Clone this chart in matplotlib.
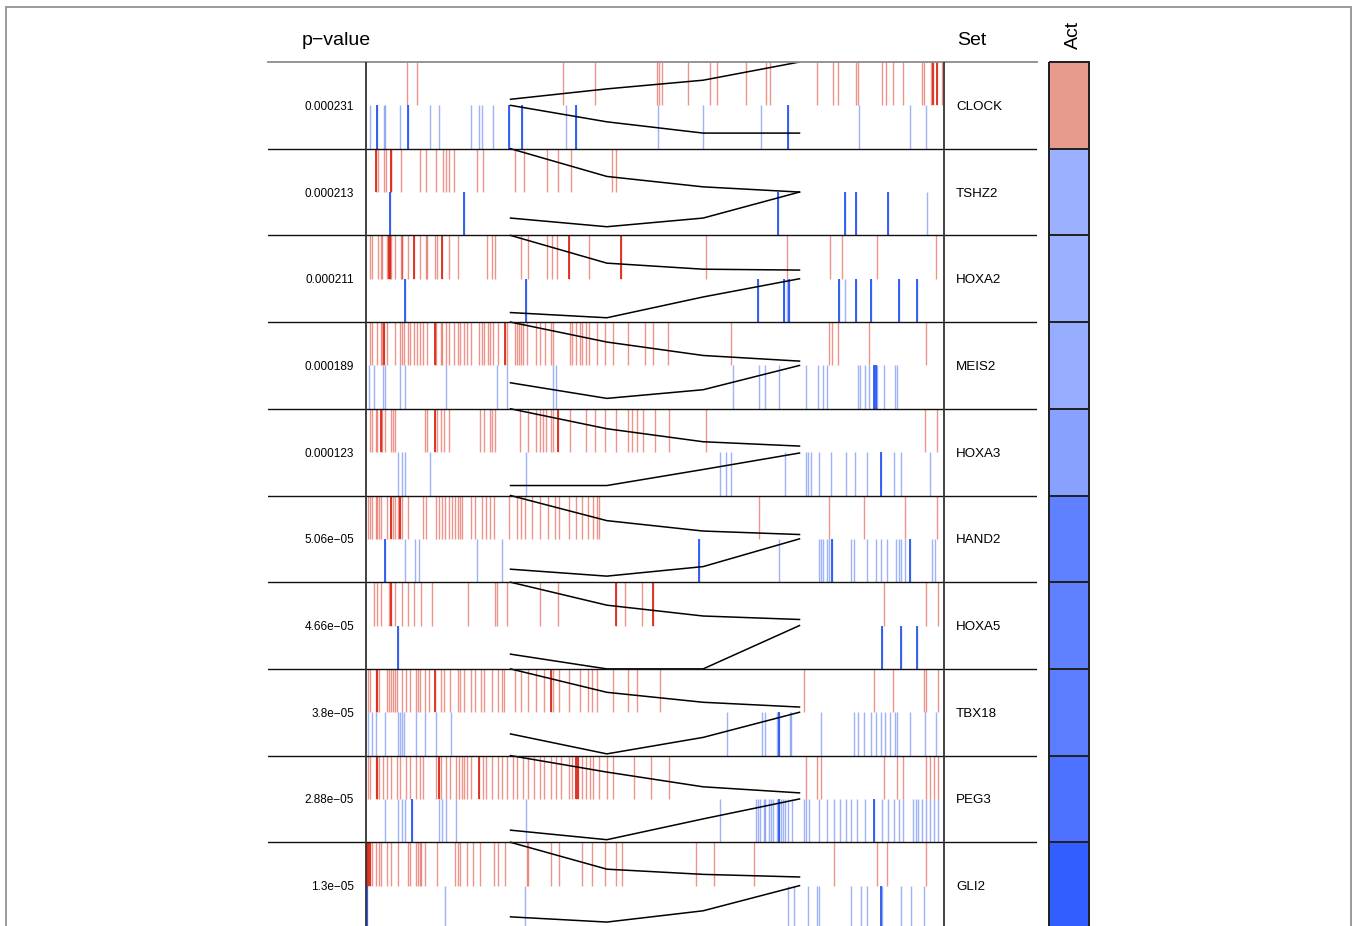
import numpy as np
import matplotlib
matplotlib.use("Agg")
import matplotlib.pyplot as plt
from matplotlib.colors import LinearSegmentedColormap, Normalize
from matplotlib.patches import Rectangle

plt.rcParams['font.family'] = ['Liberation Sans', 'DejaVu Sans']

# regulators, top to bottom
genes = ['CLOCK', 'TSHZ2', 'HOXA2', 'MEIS2', 'HOXA3', 'HAND2', 'HOXA5', 'TBX18', 'PEG3', 'GLI2']
pvals = ['0.000231', '0.000213', '0.000211', '0.000189', '0.000123',
         '5.06e\u221205', '4.66e\u221205', '3.8e\u221205', '2.88e\u221205', '1.3e\u221205']
# activity (NES) used for the Act column colour
act = [1.8, -1.86, -1.86, -1.95, -2.2, -2.95, -2.95, -3.05, -3.3, -3.8]

# barcode positions, % of the ranked signature (0 = left)
red_ticks = [
    [7.1, 8.8, 34.1, 39.6, 50.3, 50.7, 51.2, 55.7, 59.5, 60.7, 65.7, 69.2, 69.9, 78.0, 80.8, 81.7,
     84.8, 85.1, 89.3, 90.0, 91.2, 92.9, 96.2, 96.5, 97.8, 98.1, 98.8, 99.7],
    [1.7, 2.0, 3.1, 3.5, 4.3, 4.4, 6.0, 9.3, 10.3, 12.1, 13.4, 13.9, 14.4, 15.2, 19.2, 20.3, 25.7,
     27.4, 31.3, 33.3, 35.4, 42.5, 43.3],
    [0.7, 1.0, 2.0, 2.6, 2.8, 3.6, 4.0, 4.2, 4.3, 5.0, 6.0, 6.2, 6.3, 7.3, 8.3, 9.3, 10.3, 10.6,
     11.9, 12.2, 13.2, 14.4, 15.9, 21.0, 21.8, 22.3, 26.9, 28.1, 31.3, 32.1, 33.1, 35.2, 38.6, 44.2,
     58.9, 72.9, 80.2, 82.3, 88.4, 98.7],
    [0.66, 0.99, 1.98, 2.65, 2.84, 3.11, 3.64, 4.96, 5.95, 6.28, 6.61, 7.28, 7.61, 8.27, 8.80, 9.26,
     9.92, 10.58, 11.90, 12.10, 12.90, 13.23, 13.89, 14.35, 15.21, 15.87, 16.34, 16.87, 17.53, 18.19,
     19.51, 20.04, 20.50, 21.03, 21.49, 22.02, 22.82, 24.01, 24.47, 25.79, 26.12, 26.46, 26.79, 27.12,
     27.78, 29.43, 30.09, 30.89, 31.94, 32.28, 35.25, 35.71, 36.38, 37.04, 37.37, 38.03, 38.56, 40.01,
     41.34, 42.66, 45.30, 48.28, 49.60, 52.25, 63.16, 80.03, 80.69, 81.68, 86.97, 96.89],
    [0.66, 0.99, 1.65, 1.98, 2.65, 2.84, 3.31, 4.30, 4.63, 5.09, 10.25, 10.58, 11.90, 12.24, 12.90,
     13.43, 14.35, 19.64, 20.50, 21.49, 21.83, 22.29, 26.65, 28.11, 29.43, 30.09, 30.62, 31.22, 31.94,
     32.41, 33.27, 35.38, 38.03, 39.68, 41.34, 43.32, 45.30, 46.10, 46.96, 47.95, 49.93, 52.45, 58.86,
     96.76, 98.74],
    [0.33, 0.66, 0.99, 1.65, 1.98, 2.31, 2.65, 3.64, 4.30, 4.63, 4.96, 5.62, 5.95, 6.15, 7.28, 9.92,
     10.38, 12.10, 12.57, 13.23, 13.69, 14.35, 14.88, 15.41, 15.87, 16.34, 16.53, 18.19, 18.85, 20.04,
     20.83, 21.49, 22.16, 24.67, 26.12, 26.79, 27.58, 28.77, 30.09, 31.42, 32.74, 33.40, 35.05, 36.38,
     37.37, 38.36, 39.22, 40.01, 40.34, 67.99, 80.03, 86.18, 93.25, 98.74],
    [1.32, 1.98, 2.65, 3.97, 4.30, 4.96, 6.28, 7.28, 8.27, 9.59, 11.44, 17.66, 22.29, 22.69, 24.34,
     30.09, 33.27, 43.19, 44.78, 47.82, 49.60, 89.62, 96.89, 98.88],
    [0.33, 0.66, 1.65, 1.98, 2.31, 3.64, 3.97, 4.30, 4.63, 4.96, 5.29, 6.28, 6.94, 7.61, 8.60, 8.93,
     9.26, 10.25, 10.91, 11.90, 12.90, 13.56, 14.55, 15.87, 16.34, 16.87, 18.19, 18.85, 19.84, 20.50,
     21.83, 22.82, 23.48, 23.81, 25.79, 26.79, 28.11, 29.43, 30.75, 32.08, 32.41, 33.40, 35.05, 37.04,
     38.36, 39.02, 40.01, 42.66, 45.30, 46.96, 50.93, 75.86, 87.96, 91.14, 96.56, 96.89, 98.88],
    [0.33, 0.66, 1.65, 1.98, 2.31, 2.98, 3.64, 4.30, 5.29, 5.95, 6.94, 7.61, 8.60, 9.26, 9.92, 12.10,
     12.57, 12.90, 13.89, 14.55, 15.54, 16.07, 16.53, 16.87, 17.53, 18.19, 19.51, 20.17, 20.83, 21.83,
     22.82, 23.48, 24.47, 25.46, 26.12, 27.12, 28.11, 29.10, 30.09, 30.75, 32.08, 32.87, 33.73, 35.05,
     35.71, 36.38, 36.71, 37.37, 38.03, 38.69, 39.35, 40.34, 41.67, 42.66, 46.30, 49.27, 52.45, 76.06,
     78.04, 78.70, 89.62, 91.93, 92.92, 96.89, 97.55, 98.21, 98.88],
    [0.2, 0.33, 0.66, 0.99, 1.65, 2.18, 2.65, 3.64, 4.30, 5.62, 7.28, 7.61, 8.60, 8.93, 9.26, 9.59,
     10.25, 12.24, 15.41, 15.87, 16.34, 17.53, 18.52, 19.64, 22.16, 22.82, 24.01, 27.78, 28.11, 32.08,
     33.40, 37.37, 39.02, 41.34, 43.19, 44.31, 57.08, 60.19, 67.13, 80.89, 88.43, 90.15, 96.89],
]
red_dark = [
    [98.1, 98.8],
    [1.7, 4.3],
    [4.0, 4.2, 8.3, 13.2, 35.2, 44.2],
    [3.11, 11.90, 24.01],
    [2.65, 11.90, 33.27],
    [4.30, 5.95],
    [4.30, 43.19, 49.60],
    [1.98, 11.90, 32.08],
    [1.98, 12.57, 19.51, 36.38, 36.71],
    [0.2, 0.33, 0.66],
]
blue_ticks = [
    [0.7, 1.9, 3.1, 3.3, 5.9, 7.3, 11.0, 12.6, 18.1, 19.6, 20.0, 21.9, 24.8, 27.0, 34.6, 36.3, 50.6,
     58.3, 68.3, 73.0, 85.3, 94.1, 96.8],
    [4.2, 16.9, 71.3, 82.9, 84.7, 90.3, 97.0],
    [6.8, 27.6, 67.9, 72.4, 72.9, 73.2, 81.9, 82.9, 84.7, 87.3, 92.3, 95.4],
    [0.46, 1.32, 2.98, 3.31, 5.95, 6.81, 13.89, 22.69, 24.47, 32.28, 32.87, 63.49, 67.92, 68.98, 71.43,
     76.06, 78.24, 79.03, 79.83, 85.12, 85.52, 86.31, 86.97, 87.96, 88.16, 88.43, 89.62, 91.47, 91.93],
    [5.62, 6.28, 6.81, 11.04, 27.65, 61.18, 62.37, 63.16, 72.42, 76.06, 76.39, 76.92, 78.37, 80.49,
     83.00, 84.66, 86.64, 89.09, 91.27, 92.59, 97.55],
    [3.31, 6.81, 8.40, 9.13, 19.18, 23.61, 57.54, 71.43, 78.37, 78.70, 79.03, 79.70, 80.03, 80.69,
     83.86, 84.46, 86.64, 88.29, 89.09, 90.15, 91.73, 92.13, 92.59, 93.25, 94.11, 97.88, 98.41],
    [5.49, 89.29, 92.59, 95.37],
    [0.33, 0.99, 1.79, 3.31, 5.62, 5.95, 6.28, 6.61, 8.60, 10.25, 12.10, 14.75, 62.50, 68.45, 68.98,
     71.10, 71.43, 73.41, 73.61, 78.70, 84.46, 85.12, 86.18, 87.30, 88.29, 89.09, 89.75, 90.61, 91.47,
     91.93, 94.11, 96.76, 98.54],
    [3.31, 5.62, 6.28, 6.81, 7.94, 12.57, 13.23, 13.89, 15.54, 27.65, 61.18, 67.46, 67.79, 68.12,
     68.78, 69.11, 69.78, 70.11, 70.44, 71.10, 71.43, 71.76, 72.09, 72.55, 73.08, 73.74, 75.73, 76.06,
     76.72, 78.37, 79.70, 81.02, 82.01, 83.00, 83.99, 84.99, 86.31, 87.96, 89.29, 90.28, 91.27, 92.26,
     92.92, 94.58, 95.24, 95.57, 96.23, 96.89, 97.55, 98.21, 98.88],
    [0.2, 13.69, 27.58, 73.08, 74.07, 76.39, 78.04, 78.37, 83.99, 85.65, 86.64, 89.09, 89.29, 92.59,
     94.25, 96.56],
]
blue_dark = [
    [1.9, 7.3, 24.8, 27.0, 36.3, 73.0],
    [4.2, 16.9, 71.3, 82.9, 84.7, 90.3],
    [6.8, 27.6, 67.9, 72.4, 73.2, 81.9, 84.7, 87.3, 92.3, 95.4],
    [87.96, 88.16],
    [89.09],
    [3.31, 57.54, 80.69, 94.11],
    [5.49, 89.29, 92.59, 95.37],
    [71.43],
    [7.94, 71.43, 87.96],
    [0.2, 89.09],
]

# black polylines: break points (% of rank) and height (fraction of row, 0 = top)
line_x = [25.0, 41.67, 58.33, 75.0]
upper_line = [
    [0.43, 0.31, 0.21, 0.0],
    [0.0, 0.32, 0.44, 0.50],
    [0.0, 0.32, 0.39, 0.40],
    [0.0, 0.23, 0.385, 0.45],
    [0.0, 0.23, 0.38, 0.43],
    [0.0, 0.29, 0.41, 0.45],
    [0.0, 0.265, 0.39, 0.43],
    [0.0, 0.27, 0.385, 0.44],
    [0.0, 0.19, 0.36, 0.43],
    [0.0, 0.31, 0.37, 0.40],
]
lower_line = [
    [0.50, 0.69, 0.82, 0.82],
    [0.80, 0.90, 0.80, 0.50],
    [0.89, 0.95, 0.71, 0.50],
    [0.70, 0.88, 0.78, 0.50],
    [0.885, 0.885, 0.70, 0.51],
    [0.85, 0.93, 0.82, 0.50],
    [0.83, 1.0, 1.0, 0.50],
    [0.75, 0.98, 0.79, 0.50],
    [0.86, 0.97, 0.73, 0.50],
    [0.86, 0.92, 0.79, 0.50],
]

W, H = 1354, 926
red = '#DC2A1A'
blue = '#2858F0'

fig = plt.figure(figsize=(W / 100, H / 100), dpi=100)

# main table (p-value | barcode | set), 0..100 on x is the barcode
ax = fig.add_axes([268 / W, 1 - 929 / H, 769 / W, 867 / H])
ax.set_xlim(-16.955, 116.09)
ax.set_ylim(len(genes), 0)
ax.axis('off')

for i in range(len(genes)):
    ax.vlines(red_ticks[i], i, i + 0.5, color=red, alpha=0.5, lw=1.0)
    ax.vlines(red_dark[i], i, i + 0.5, color=red, alpha=1.0, lw=1.3)
    ax.vlines(blue_ticks[i], i + 0.5, i + 1, color=blue, alpha=0.45, lw=1.0)
    ax.vlines(blue_dark[i], i + 0.5, i + 1, color=blue, alpha=1.0, lw=1.3)
    ax.plot(line_x, i + np.array(upper_line[i]), color='black', lw=1.1)
    ax.plot(line_x, i + np.array(lower_line[i]), color='black', lw=1.1)
    ax.text(-2.08, i + 0.5, pvals[i], ha='right', va='center_baseline', fontsize=8.5)
    ax.text(102.08, i + 0.5, genes[i], ha='left', va='center_baseline', fontsize=9.6)

for i in range(1, len(genes)):
    ax.axhline(i, color='#111111', lw=1.0)
ax.axhline(0, color='#8c8c8c', lw=1.3, clip_on=False)
ax.vlines([0, 100], 0, len(genes), color='#333333', lw=1.3, clip_on=False)

# Act column
cmap = LinearSegmentedColormap.from_list('act', ['#2855FF', '#FFFFFF', '#C82100'])
ax2 = fig.add_axes([1049 / W, 1 - 929 / H, 40 / W, 867 / H])
mesh = ax2.pcolormesh([0, 1], np.arange(len(genes) + 1), np.array(act)[:, None],
                      cmap=cmap, norm=Normalize(-4, 4), edgecolors='#222222', linewidth=1.1)
mesh.set_clip_on(False)
ax2.set_xlim(0, 1)
ax2.set_ylim(len(genes), 0)
ax2.axis('off')

# headers
fig.text(302 / W, 1 - 45 / H, 'p\u2212value', ha='left', va='baseline', fontsize=14)
fig.text(957 / W, 1 - 45 / H, 'Set', ha='left', va='baseline', fontsize=14)
fig.text(1078 / W, 1 - 35 / H, 'Act', rotation=90, rotation_mode='anchor',
         ha='center', va='baseline', fontsize=14)

# outer frame
fig.add_artist(Rectangle((6 / W, -0.05), (1351 - 6) / W, 1 - 7 / H + 0.05,
                         transform=fig.transFigure, fill=False, ec='#9a9a9a', lw=1.4))

fig.savefig('out.png', dpi=100)
